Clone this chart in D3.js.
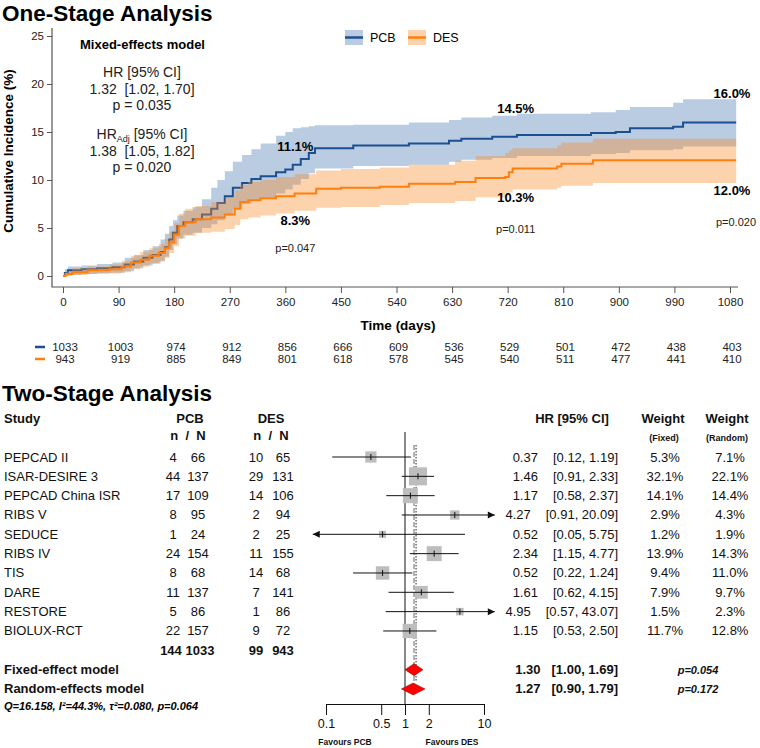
<!DOCTYPE html>
<html>
<head>
<meta charset="utf-8">
<script src="https://cdn.jsdelivr.net/npm/d3@7/dist/d3.min.js"></script>
<style>
  body { margin: 0; background: #fff; }
  svg { display: block; font-family: "Liberation Sans", Arial, sans-serif; }
</style>
</head>
<body>
<svg id="chart" width="760" height="748"></svg>
<script>
// ---------- one-stage: cumulative incidence, [day, estimate, lower, upper] in %
const pcbKM = [
  [0, 0, 0, 0], [3, 0.3, 0, 0.7], [8, 0.6, 0.1, 1.0], [30, 0.7, 0.2, 1.1],
  [55, 0.8, 0.3, 1.25], [80, 0.9, 0.35, 1.4], [100, 1.2, 0.5, 1.9],
  [115, 1.5, 0.8, 2.2], [130, 1.9, 1.1, 2.7], [145, 2.2, 1.3, 3.1],
  [158, 2.5, 1.6, 3.8], [165, 3.0, 2.0, 4.4], [172, 3.8, 2.7, 5.2],
  [178, 4.5, 3.3, 5.8], [185, 5.2, 3.9, 6.3], [195, 5.6, 4.3, 6.8],
  [210, 5.9, 4.5, 7.2], [225, 6.4, 5.0, 8.0], [240, 7.0, 5.4, 9.2],
  [250, 7.6, 5.8, 10.0], [262, 8.3, 6.3, 10.9], [275, 9.2, 7.0, 11.9],
  [290, 9.7, 7.5, 12.6], [305, 10.1, 7.9, 13.2], [320, 10.4, 8.2, 13.8],
  [345, 10.8, 8.6, 14.6], [360, 11.1, 9.0, 15.0], [372, 11.6, 9.5, 15.4],
  [385, 12.2, 10.1, 15.5], [398, 12.8, 10.7, 15.6], [408, 13.3, 11.2, 15.7],
  [470, 13.6, 11.45, 15.75], [560, 13.8, 11.6, 16.0], [625, 14.1, 11.9, 16.25],
  [645, 14.3, 12.1, 16.5], [695, 14.5, 12.3, 16.7], [735, 14.7, 12.5, 16.9],
  [855, 14.9, 12.7, 17.05], [895, 15.0, 12.8, 17.3], [918, 15.4, 13.1, 17.6],
  [988, 15.55, 13.2, 18.05], [1004, 16.0, 13.5, 18.4], [1090, 16.0, 13.5, 18.4]
];
const desKM = [
  [0, 0, 0, 0], [4, 0.2, 0, 0.5], [15, 0.4, 0.1, 0.8], [40, 0.6, 0.2, 1.0],
  [75, 0.7, 0.25, 1.2], [95, 1.0, 0.4, 1.6], [110, 1.4, 0.7, 2.1],
  [125, 1.7, 1.0, 2.5], [140, 2.1, 1.3, 2.9], [155, 2.4, 1.5, 3.3],
  [165, 2.9, 1.9, 3.9], [172, 3.5, 2.4, 4.6], [180, 4.3, 3.1, 5.5],
  [188, 5.2, 3.9, 6.5], [198, 5.6, 4.2, 7.0], [215, 5.9, 4.5, 7.3],
  [240, 6.1, 4.6, 7.7], [262, 6.4, 4.9, 8.2], [278, 7.0, 5.3, 8.9],
  [287, 7.7, 5.9, 9.5], [300, 7.9, 6.1, 9.8], [320, 8.1, 6.3, 10.0],
  [345, 8.3, 6.5, 10.3], [375, 8.6, 6.8, 10.6], [410, 9.1, 7.1, 11.0],
  [450, 9.2, 7.2, 11.15], [513, 9.3, 7.4, 11.3], [560, 9.6, 7.6, 11.6],
  [635, 9.8, 7.8, 12.0], [668, 10.2, 8.2, 12.5], [716, 10.3, 8.3, 12.8],
  [722, 10.8, 8.7, 13.1], [728, 11.2, 9.0, 13.3], [800, 11.4, 9.2, 13.6],
  [807, 11.7, 9.4, 13.9], [858, 12.05, 9.7, 14.3], [1090, 12.05, 9.7, 14.3]
];
const xTicks = [0, 90, 180, 270, 360, 450, 540, 630, 720, 810, 900, 990, 1080];
const yTicks = [0, 5, 10, 15, 20, 25];
const pcbAtRisk = [1033, 1003, 974, 912, 856, 666, 609, 536, 529, 501, 472, 438, 403];
const desAtRisk = [943, 919, 885, 849, 801, 618, 578, 545, 540, 511, 477, 441, 410];
const landmarkDays = [360, 720, 1080];
const landmarkPcb = ["11.1%", "14.5%", "16.0%"];
const landmarkDes = ["8.3%", "10.3%", "12.0%"];
const landmarkP = ["p=0.047", "p=0.011", "p=0.020"];
const modelLines = ["HR [95% CI]", "1.32  [1.02, 1.70]", "p = 0.035", "", "HR_Adj", "1.38  [1.05, 1.82]", "p = 0.020"];

// ---------- two-stage: meta-analysis
const studies = ["PEPCAD II", "ISAR-DESIRE 3", "PEPCAD China ISR", "RIBS V", "SEDUCE",
  "RIBS IV", "TIS", "DARE", "RESTORE", "BIOLUX-RCT"];
const pcbEvents = [4, 44, 17, 8, 1, 24, 8, 11, 5, 22];
const pcbTotal = [66, 137, 109, 95, 24, 154, 68, 137, 86, 157];
const desEvents = [10, 29, 14, 2, 2, 11, 14, 7, 1, 9];
const desTotal = [65, 131, 106, 94, 25, 155, 68, 141, 86, 72];
const hr = [0.37, 1.46, 1.17, 4.27, 0.52, 2.34, 0.52, 1.61, 4.95, 1.15];
const hrLo = [0.12, 0.91, 0.58, 0.91, 0.05, 1.15, 0.22, 0.62, 0.57, 0.53];
const hrHi = [1.19, 2.33, 2.37, 20.09, 5.75, 4.77, 1.24, 4.15, 43.07, 2.50];
const weightFixed = [5.3, 32.1, 14.1, 2.9, 1.2, 13.9, 9.4, 7.9, 1.5, 11.7];
const weightRandom = [7.1, 22.1, 14.4, 4.3, 1.9, 14.3, 11.0, 9.7, 2.3, 12.8];
const totals = [144, 1033, 99, 943];
const pooledLabels = ["Fixed-effect model", "Random-effects model"];
const pooledHr = [1.30, 1.27];
const pooledLo = [1.00, 0.90];
const pooledHi = [1.69, 1.79];
const pooledP = ["p=0.054", "p=0.172"];
const forestTicks = [0.1, 0.5, 1, 2, 10];

const PCB = "#1c4f8f", DES = "#ff7f0e";
const svg = d3.select("#chart");

// ================= ONE-STAGE =================
svg.append("text").attr("x", 2).attr("y", 21).attr("font-size", 22.5)
  .attr("font-weight", "bold").text("One-Stage Analysis");

const x = d3.scaleLinear().domain([0, 1080]).range([63, 730]);
const y = d3.scaleLinear().domain([0, 25]).range([276, 36]);

const gx = svg.append("g").attr("transform", "translate(0,287)")
  .call(d3.axisBottom(x).tickValues(xTicks).tickFormat(d3.format("d"))
    .tickSize(6).tickPadding(5).tickSizeOuter(0));
gx.select(".domain").remove();
const gy = svg.append("g").attr("transform", "translate(52,0)")
  .call(d3.axisLeft(y).tickValues(yTicks).tickSize(5).tickPadding(3));
gy.select(".domain").remove();
[gx, gy].forEach(g => {
  g.selectAll("line").attr("stroke", "#555");
  g.selectAll("text").attr("font-size", 11.5).attr("fill", "#222")
    .attr("font-family", "Liberation Sans, Arial, sans-serif");
});
svg.append("path").attr("d", "M52,28V287H738").attr("fill", "none")
  .attr("stroke", "#555").attr("stroke-width", 1.2);

svg.append("text").attr("transform", "translate(13,151) rotate(-90)")
  .attr("text-anchor", "middle").attr("font-size", 13.5).attr("font-weight", "bold")
  .text("Cumulative Incidence (%)");
svg.append("text").attr("x", 398).attr("y", 330).attr("text-anchor", "middle")
  .attr("font-size", 13.5).attr("font-weight", "bold").text("Time (days)");

const band = d3.area().curve(d3.curveStepAfter)
  .x(d => x(d[0])).y0(d => y(d[2])).y1(d => y(d[3]));
const line = d3.line().curve(d3.curveStepAfter).x(d => x(d[0])).y(d => y(d[1]));

svg.append("path").datum(pcbKM).attr("d", band).attr("fill", "rgb(70,120,180)").attr("fill-opacity", 0.38);
svg.append("path").datum(pcbKM).attr("d", line).attr("fill", "none").attr("stroke", PCB).attr("stroke-width", 2);
svg.append("path").datum(desKM).attr("d", band).attr("fill", "rgb(250,140,40)").attr("fill-opacity", 0.38);
svg.append("path").datum(desKM).attr("d", line).attr("fill", "none").attr("stroke", DES).attr("stroke-width", 2);

// legend
[["PCB", "rgb(70,120,180)", PCB, 345], ["DES", "rgb(250,140,40)", DES, 408]].forEach(([lab, f, c, lx]) => {
  svg.append("rect").attr("x", lx).attr("y", 30).attr("width", 18).attr("height", 15)
    .attr("fill", f).attr("fill-opacity", 0.38);
  svg.append("line").attr("x1", lx).attr("x2", lx + 18).attr("y1", 37.5).attr("y2", 37.5)
    .attr("stroke", c).attr("stroke-width", 2.5);
  svg.append("text").attr("x", lx + 25).attr("y", 42).attr("font-size", 12.5).text(lab);
});

// model annotation
svg.append("text").attr("x", 80).attr("y", 49).attr("font-size", 13)
  .attr("font-weight", "bold").text("Mixed-effects model");
const modelY = [77, 94, 110, 0, 139, 156, 172];
modelLines.forEach((t, i) => {
  if (!t) return;
  const tx = svg.append("text").attr("x", 142).attr("y", modelY[i])
    .attr("text-anchor", "middle").attr("font-size", 14).attr("fill", "#222")
    .style("white-space", "pre");
  if (t === "HR_Adj") {
    tx.append("tspan").text("HR");
    tx.append("tspan").attr("font-size", 9).attr("dy", 3).text("Adj");
    tx.append("tspan").attr("dy", -3).text(" [95% CI]");
  } else tx.text(t);
});

// landmark labels
const pcbDy = [-23, -29, -29], desDy = [24, 20, 29], pDy = [28, 32, 32], lDx = [10, 8, 2];
landmarkDays.forEach((d, i) => {
  const cx = x(d) + lDx[i];
  const vP = parseFloat(landmarkPcb[i]), vD = parseFloat(landmarkDes[i]);
  svg.append("text").attr("x", cx).attr("y", y(vP) + pcbDy[i] + 5).attr("text-anchor", "middle")
    .attr("font-size", 13).attr("font-weight", "bold").text(landmarkPcb[i]);
  svg.append("text").attr("x", cx).attr("y", y(vD) + desDy[i] + 5).attr("text-anchor", "middle")
    .attr("font-size", 13).attr("font-weight", "bold").text(landmarkDes[i]);
  svg.append("text").attr("x", cx + (i === 2 ? 4 : 0)).attr("y", y(vD) + desDy[i] + pDy[i] + 4)
    .attr("text-anchor", "middle").attr("font-size", 11).attr("fill", "#222").text(landmarkP[i]);
});

// number at risk
[[pcbAtRisk, PCB, 347], [desAtRisk, DES, 359]].forEach(([arr, c, ry]) => {
  svg.append("line").attr("x1", 35).attr("x2", 45).attr("y1", ry).attr("y2", ry)
    .attr("stroke", c).attr("stroke-width", 2.5);
  svg.selectAll(null).data(arr).join("text")
    .attr("x", (d, i) => x(xTicks[i]) + 2).attr("y", ry + 4)
    .attr("text-anchor", "middle").attr("font-size", 11.5).attr("fill", "#222").text(d => d);
});

// ================= TWO-STAGE =================
svg.append("text").attr("x", 2).attr("y", 401).attr("font-size", 22.5)
  .attr("font-weight", "bold").text("Two-Stage Analysis");

const fx = d3.scaleLog().domain([0.1, 10]).range([326, 484]);
const rowY = i => 457 + i * 19.33;
const clipLo = 0.068, clipHi = 13.7;
const T = (tx, ty, t, o = {}) => svg.append("text").attr("x", tx).attr("y", ty)
  .attr("text-anchor", o.anchor || "start").attr("font-size", o.size || 13)
  .attr("font-weight", o.bold ? "bold" : null).attr("font-style", o.italic ? "italic" : null)
  .attr("fill", o.fill || "#111").style("white-space", "pre").text(t);

// headers
T(4, 423, "Study", { bold: true });
T(190, 423, "PCB", { bold: true, anchor: "middle" });
T(271, 423, "DES", { bold: true, anchor: "middle" });
T(188, 440, "n  /  N", { bold: true, anchor: "middle" });
T(271, 440, "n  /  N", { bold: true, anchor: "middle" });
T(572, 423, "HR [95% CI]", { bold: true, anchor: "middle" });
T(663, 423, "Weight", { bold: true, anchor: "middle" });
T(727, 423, "Weight", { bold: true, anchor: "middle" });
T(664, 441, "(Fixed)", { bold: true, anchor: "middle", size: 9 });
T(727, 441, "(Random)", { bold: true, anchor: "middle", size: 9 });

// reference lines
svg.append("line").attr("x1", fx(1)).attr("x2", fx(1)).attr("y1", 432).attr("y2", 704)
  .attr("stroke", "#111").attr("stroke-width", 1);
svg.append("line").attr("x1", fx(pooledHr[0])).attr("x2", fx(pooledHr[0])).attr("y1", 445).attr("y2", 682)
  .attr("stroke", "#666").attr("stroke-width", 1).attr("stroke-dasharray", "5,2");
svg.append("line").attr("x1", fx(1.38)).attr("x2", fx(1.38)).attr("y1", 445).attr("y2", 682)
  .attr("stroke", "#222").attr("stroke-width", 1).attr("stroke-dasharray", "1.5,1.5");

const sq = d3.scaleSqrt().domain([1.9, 22.1]).range([7, 18]);
const arrowR = (ax, ay) => `M${ax},${ay}l-7,-3.5v7z`;
const arrowL = (ax, ay) => `M${ax},${ay}l7,-3.5v7z`;

studies.forEach((s, i) => {
  const ry = rowY(i), ty = ry + 4.5;
  T(4, ty, s);
  T(173, ty, pcbEvents[i], { anchor: "middle" });
  T(198, ty, pcbTotal[i], { anchor: "middle" });
  T(256, ty, desEvents[i], { anchor: "middle" });
  T(283, ty, desTotal[i], { anchor: "middle" });
  const ci = T(618, ty, `[${hrLo[i].toFixed(2)}, ${hrHi[i].toFixed(2)}]`, { anchor: "end" });
  T(618 - ci.node().getComputedTextLength() - 15, ty, hr[i].toFixed(2), { anchor: "end" });
  T(665, ty, weightFixed[i].toFixed(1) + "%", { anchor: "middle" });
  T(730, ty, weightRandom[i].toFixed(1) + "%", { anchor: "middle" });

  const x0 = fx(Math.max(hrLo[i], clipLo)), x1 = fx(Math.min(hrHi[i], clipHi));
  const side = sq(weightRandom[i]);
  svg.append("rect").attr("x", fx(hr[i]) - side / 2).attr("y", ry - side / 2)
    .attr("width", side).attr("height", side).attr("fill", "#bdbdbd");
  svg.append("line").attr("x1", x0).attr("x2", x1).attr("y1", ry).attr("y2", ry)
    .attr("stroke", "#111").attr("stroke-width", 1);
  svg.append("line").attr("x1", fx(hr[i])).attr("x2", fx(hr[i])).attr("y1", ry - 3).attr("y2", ry + 3)
    .attr("stroke", "#111").attr("stroke-width", 1);
  if (hrHi[i] > clipHi) svg.append("path").attr("d", arrowR(x1, ry)).attr("fill", "#111");
  if (hrLo[i] < clipLo) svg.append("path").attr("d", arrowL(x0, ry)).attr("fill", "#111");
});

// totals
const ty10 = rowY(10) + 4.5;
[171, 200, 256, 283].forEach((cx, k) => T(cx, ty10, totals[k], { anchor: "middle", bold: true }));

// pooled
pooledLabels.forEach((lab, k) => {
  const ry = rowY(11 + k), ty = ry + 4.5;
  T(4, ty, lab, { bold: true });
  const ci = T(618, ty, `[${pooledLo[k].toFixed(2)}, ${pooledHi[k].toFixed(2)}]`, { anchor: "end", bold: true });
  T(618 - ci.node().getComputedTextLength() - 11, ty, pooledHr[k].toFixed(2), { anchor: "end", bold: true });
  T(698, ty, pooledP[k], { anchor: "middle", bold: true, italic: true, size: 11 });
  svg.append("path")
    .attr("d", `M${fx(pooledLo[k])},${ry}L${fx(pooledHr[k])},${ry - 6}L${fx(pooledHi[k])},${ry}L${fx(pooledHr[k])},${ry + 6}Z`)
    .attr("fill", "#ff0000").attr("stroke", "#7a0000").attr("stroke-width", 0.5);
});
svg.append("text").attr("x", 4).attr("y", rowY(12) + 21).attr("font-size", 11)
  .attr("font-weight", "bold").attr("font-style", "italic")
  .text("Q=16.158, I²=44.3%, τ²=0.080, p=0.064");

// forest axis
const fa = svg.append("g").attr("transform", "translate(0,704)")
  .call(d3.axisBottom(fx).tickValues(forestTicks).tickFormat(d => d).tickSize(11).tickPadding(4).tickSizeOuter(0));
fa.select(".domain").attr("stroke", "#111");
fa.selectAll("line").attr("stroke", "#111");
fa.selectAll("text").attr("font-size", 12.5).attr("fill", "#111")
  .attr("font-family", "Liberation Sans, Arial, sans-serif");
T(345, 745, "Favours PCB", { anchor: "middle", bold: true, size: 8.5 });
T(452, 745, "Favours DES", { anchor: "middle", bold: true, size: 8.5 });
</script>
</body>
</html>
